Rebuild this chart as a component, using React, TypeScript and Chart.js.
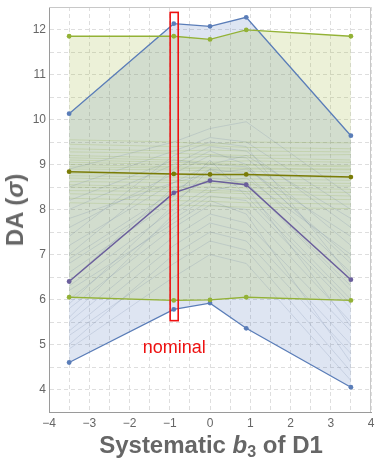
import React, { useEffect, useRef } from "react";
import { Chart, registerables } from "chart.js";
Chart.register(...registerables);

// ---- data ----
const xValues = [-3.5, -0.9, 0, 0.9, 3.5];
const blueUpper = [10.13, 12.13, 12.07, 12.27, 9.64];
const blueLower = [4.6, 5.78, 5.92, 5.36, 4.05];
const blueMean = [6.4, 8.37, 8.64, 8.55, 6.44];
const greenUpper = [11.85, 11.85, 11.78, 11.99, 11.85];
const greenLower = [6.05, 5.98, 5.99, 6.05, 5.98];
const greenMean = [8.84, 8.79, 8.78, 8.78, 8.72];

const greenRuns = [
  [9.55, 9.5, 9.45, 9.5, 9.48],
  [9.45, 9.4, 9.42, 9.38, 9.35],
  [9.35, 9.3, 9.32, 9.3, 9.28],
  [9.28, 9.25, 9.22, 9.2, 9.22],
  [9.2, 9.15, 9.18, 9.15, 9.1],
  [9.15, 9.1, 9.05, 9.08, 9.05],
  [9.1, 9.05, 9.02, 9.0, 8.98],
  [9.05, 9.0, 9.0, 8.98, 8.95],
  [9.0, 8.95, 8.93, 8.92, 8.9],
  [8.95, 8.92, 8.9, 8.9, 8.88],
  [8.9, 8.88, 8.86, 8.85, 8.82],
  [8.8, 8.78, 8.75, 8.75, 8.7],
  [8.75, 8.72, 8.7, 8.68, 8.65],
  [8.7, 8.65, 8.62, 8.6, 8.58],
  [8.62, 8.6, 8.58, 8.55, 8.52],
  [8.55, 8.5, 8.5, 8.48, 8.45],
  [8.5, 8.45, 8.42, 8.4, 8.38],
  [8.42, 8.4, 8.38, 8.35, 8.3],
  [8.35, 8.3, 8.28, 8.25, 8.22],
  [8.25, 8.2, 8.18, 8.15, 8.12],
  [8.15, 8.1, 8.08, 8.05, 8.02],
];

const blueRuns = [
  [8.9, 9.5, 9.8, 9.95, 8.3],
  [8.5, 9.3, 9.6, 9.5, 8.0],
  [8.0, 9.0, 9.4, 9.3, 7.6],
  [7.6, 8.8, 9.2, 9.15, 7.2],
  [7.2, 8.6, 9.0, 8.95, 6.9],
  [6.9, 8.4, 8.9, 8.8, 6.6],
  [6.6, 8.2, 8.7, 8.6, 6.3],
  [6.3, 8.0, 8.5, 8.4, 6.0],
  [6.0, 7.8, 8.3, 8.2, 5.8],
  [5.8, 7.6, 8.1, 8.0, 5.5],
  [5.5, 7.4, 7.9, 7.7, 5.3],
  [5.3, 7.2, 7.7, 7.5, 5.0],
  [5.0, 7.0, 7.5, 7.3, 4.8],
  [7.8, 8.6, 8.8, 8.9, 7.4],
  [7.0, 8.9, 9.3, 9.0, 6.8],
  [6.4, 8.5, 8.6, 8.7, 7.0],
  [5.9, 8.1, 8.9, 8.5, 5.4],
  [8.2, 9.1, 9.0, 9.2, 7.8],
  [5.6, 7.9, 8.4, 8.6, 6.2],
  [6.8, 8.3, 9.1, 8.3, 5.9],
  [7.4, 9.2, 9.5, 9.4, 6.5],
  [6.2, 7.7, 8.2, 7.9, 4.6],
  [5.2, 6.8, 7.3, 7.1, 4.4],
  [4.9, 6.5, 7.0, 6.8, 4.2],
];

const xRange = [-4, 4];
const yRange = [3.5, 12.5];
const gridStep = 0.5;
const nominalBoxX = [-0.99, -0.79];
const nominalBoxY = [5.53, 12.38];
const nominalLabel = "nominal";
const nominalLabelPos = [-0.89, 4.81];

const pts = (ys: number[]) => xValues.map((x, i) => ({ x, y: ys[i] }));
const fmt = (v: number) =>
  Number.isInteger(v) ? (v < 0 ? "\u2212" + Math.abs(v) : String(v)) : "";

const frameAndNominal = {
  id: "frameAndNominal",
  afterDraw(chart: any) {
    const { ctx, chartArea: a, scales } = chart;
    const xs = scales.x;
    const ys = scales.y;
    ctx.save();
    // top/right frame
    ctx.strokeStyle = "#c8c8c8";
    ctx.lineWidth = 1;
    ctx.beginPath();
    ctx.moveTo(a.left, a.top + 0.5);
    ctx.lineTo(a.right - 0.5, a.top + 0.5);
    ctx.lineTo(a.right - 0.5, a.bottom);
    ctx.stroke();
    // nominal box
    const x1 = xs.getPixelForValue(nominalBoxX[0]);
    const x2 = xs.getPixelForValue(nominalBoxX[1]);
    const y1 = ys.getPixelForValue(nominalBoxY[1]);
    const y2 = ys.getPixelForValue(nominalBoxY[0]);
    ctx.strokeStyle = "#ee1111";
    ctx.lineWidth = 1.6;
    ctx.strokeRect(x1, y1, x2 - x1, y2 - y1);
    // label
    ctx.fillStyle = "#ee1111";
    ctx.font = '18px "Liberation Sans", Arial, sans-serif';
    ctx.textAlign = "center";
    ctx.textBaseline = "alphabetic";
    ctx.fillText(
      nominalLabel,
      xs.getPixelForValue(nominalLabelPos[0]),
      ys.getPixelForValue(nominalLabelPos[1])
    );
    ctx.restore();
  },
};

export default function App() {
  const ref = useRef<HTMLCanvasElement>(null);
  useEffect(() => {
    if (!ref.current) return;
    const boundStyle = (color: string, width = 1.3) => ({
      borderColor: color,
      backgroundColor: color,
      borderWidth: width,
      pointRadius: 2.4,
      pointBackgroundColor: color,
      pointBorderWidth: 0,
      tension: 0,
    });
    const datasets: any[] = [
      { label: "blue mean", data: pts(blueMean), fill: false, ...boundStyle("#6a5e9c", 1.5) },
      { label: "green mean", data: pts(greenMean), fill: false, ...boundStyle("#7a7c06", 1.5) },
      {
        label: "green upper",
        data: pts(greenUpper),
        ...boundStyle("#93b236"),
        fill: { target: 3 },
        backgroundColor: "rgba(160,185,60,0.2)",
      },
      { label: "green lower", data: pts(greenLower), fill: false, ...boundStyle("#93b236") },
      {
        label: "blue upper",
        data: pts(blueUpper),
        ...boundStyle("#5a7db8"),
        fill: { target: 5 },
        backgroundColor: "rgba(92,125,190,0.2)",
      },
      { label: "blue lower", data: pts(blueLower), fill: false, ...boundStyle("#5a7db8") },
      ...greenRuns.map((r, i) => ({
        label: "g" + i,
        data: pts(r),
        fill: false,
        borderColor: "rgba(140,170,60,0.3)",
        borderWidth: 0.7,
        pointRadius: 0,
        tension: 0,
      })),
      ...blueRuns.map((r, i) => ({
        label: "b" + i,
        data: pts(r),
        fill: false,
        borderColor: "rgba(110,130,165,0.3)",
        borderWidth: 0.7,
        pointRadius: 0,
        tension: 0,
      })),
    ];
    const tickFont = { family: '"Liberation Sans", Arial, sans-serif', size: 12 };
    const chart = new Chart(ref.current, {
      type: "line",
      data: { datasets },
      options: {
        animation: false,
        responsive: false,
        devicePixelRatio: 1,
        layout: { padding: { top: 7, right: 2, left: 0, bottom: 0 } },
        plugins: {
          legend: { display: false },
          tooltip: { enabled: false },
          filler: { propagate: false, drawTime: "beforeDatasetsDraw" },
        },
        scales: {
          x: {
            type: "linear",
            min: xRange[0],
            max: xRange[1],
            ticks: { stepSize: gridStep, callback: (v: any) => fmt(Number(v)), color: "#666", font: tickFont, padding: 4, maxRotation: 0, autoSkip: false },
            grid: { color: "#dedede", drawTicks: false, lineWidth: 1 },
            border: { display: true, color: "#9a9a9a", dash: [4, 3] },
            afterFit: (s: any) => {
              s.height = 46;
              s.paddingLeft = 0;
              s.paddingRight = 0;
            },
          },
          y: {
            type: "linear",
            min: yRange[0],
            max: yRange[1],
            ticks: { stepSize: gridStep, callback: (v: any) => fmt(Number(v)), color: "#666", font: tickFont, padding: 3, autoSkip: false },
            grid: { color: "#dedede", drawTicks: false, lineWidth: 1 },
            border: { display: true, color: "#9a9a9a", dash: [4, 3] },
            afterFit: (s: any) => {
              s.width = 49;
              s.paddingTop = 0;
              s.paddingBottom = 0;
            },
          },
        },
      } as any,
      plugins: [frameAndNominal],
    });
    return () => chart.destroy();
  }, []);

  const titleFont = '"Liberation Sans", Arial, sans-serif';
  return (
    <div style={{ position: "absolute", left: 0, top: 0, width: 375, height: 458, background: "#fff" }}>
      <canvas ref={ref} width={375} height={458} style={{ display: "block" }} />
      <div
        style={{
          position: "absolute",
          left: 49,
          width: 324,
          top: 433,
          textAlign: "center",
          fontFamily: titleFont,
          fontWeight: "bold",
          fontSize: 24,
          lineHeight: "24px",
          color: "#666",
          whiteSpace: "nowrap",
        }}
      >
        Systematic <i>b</i>
        <span style={{ fontSize: 16, position: "relative", top: 4 }}>3</span> of D1
      </div>
      <div
        style={{
          position: "absolute",
          left: 15,
          top: 210,
          width: 0,
          height: 0,
        }}
      >
        <div
          style={{
            position: "absolute",
            transform: "translate(-50%, -50%) rotate(-90deg)",
            fontFamily: titleFont,
            fontWeight: "bold",
            fontSize: 24,
            lineHeight: "24px",
            color: "#666",
            whiteSpace: "nowrap",
          }}
        >
          DA (<i>σ</i>)
        </div>
      </div>
    </div>
  );
}
